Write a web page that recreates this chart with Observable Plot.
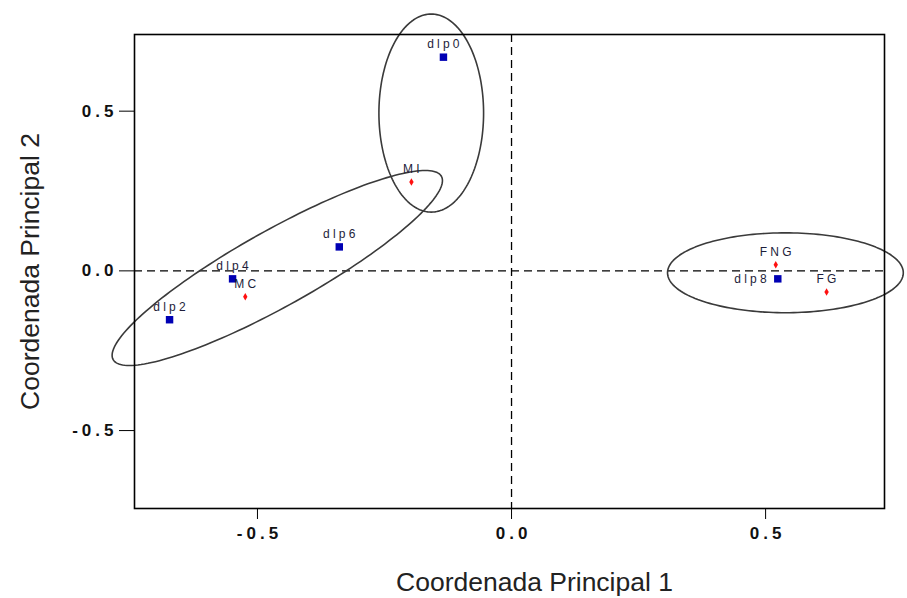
<!DOCTYPE html>
<html>
<head>
<meta charset="utf-8">
<script src="https://cdn.jsdelivr.net/npm/d3@7"></script>
<script src="https://cdn.jsdelivr.net/npm/@observablehq/plot@0.6"></script>
<style>
  body { margin: 0; background: white; }
</style>
</head>
<body>
<div id="chart"></div>
<script>
// Data
const labels = ["dlp0", "dlp2", "dlp4", "dlp6", "dlp8", "MI", "MC", "FNG", "FG"];
const coord1 = [-0.134, -0.673, -0.549, -0.339, 0.524, -0.197, -0.524, 0.520, 0.620];
const coord2 = [0.669, -0.153, -0.025, 0.075, -0.025, 0.278, -0.081, 0.019, -0.066];
const kinds  = ["dlp", "dlp", "dlp", "dlp", "dlp", "src", "src", "src", "src"];

const tickValues = [-0.5, 0, 0.5];
const tickLabels = ["-0.5", "0.0", "0.5"];

// Grouping ellipses: centre and two conjugate half-axis vectors (data units)
const ellipseIds = ["top", "left", "right"];
const ellipseCx  = [-0.158, -0.461, 0.539];
const ellipseCy  = [0.494, 0.009, -0.006];
const ellipseUx  = [0.103, 0.323, 0.232];
const ellipseUy  = [0, 0.287, 0];
const ellipseVx  = [0, 0.0365, 0];
const ellipseVy  = [0.31, -0.104, 0.125];

const points = labels.map((l, i) => ({label: l, x: coord1[i], y: coord2[i], kind: kinds[i]}));
const ellipsePts = [];
ellipseIds.forEach((id, k) => {
  const n = 180;
  for (let j = 0; j <= n; j++) {
    const t = 2 * Math.PI * j / n;
    ellipsePts.push({
      id,
      x: ellipseCx[k] + ellipseUx[k] * Math.cos(t) + ellipseVx[k] * Math.sin(t),
      y: ellipseCy[k] + ellipseUy[k] * Math.cos(t) + ellipseVy[k] * Math.sin(t)
    });
  }
});

const fmt = d => tickLabels[tickValues.indexOf(d)];

const chart = Plot.plot({
  width: 907,
  height: 598,
  marginLeft: 134,
  marginRight: 23,
  marginTop: 34,
  marginBottom: 90,
  style: {fontFamily: "Liberation Sans, Arial, sans-serif", background: "white", overflow: "visible"},
  x: {domain: [-0.742, 0.734]},
  y: {domain: [-0.744, 0.74]},
  marks: [
    Plot.ruleX([0], {stroke: "black", strokeWidth: 1.3, strokeDasharray: "8,5"}),
    Plot.ruleY([0], {stroke: "black", strokeWidth: 1.3, strokeDasharray: "8,5"}),
    Plot.line(ellipsePts, {x: "x", y: "y", z: "id", stroke: "#3a3a3a", strokeWidth: 1.6}),
    Plot.frame({stroke: "black", strokeWidth: 1.6}),
    Plot.axisX({
      ticks: tickValues, tickFormat: fmt, tickSize: 11, tickPadding: 7,
      fontSize: 17, fill: "#111",
      label: "Coordenada Principal 1", labelAnchor: "center", labelArrow: "none", labelOffset: 82
    }),
    Plot.axisY({
      ticks: tickValues, tickFormat: fmt, tickSize: 15, tickPadding: 2,
      fontSize: 17, fill: "#111",
      label: "Coordenada Principal 2", labelAnchor: "center", labelArrow: "none", labelOffset: 114
    }),
    Plot.dot(points.filter(d => d.kind === "dlp"), {x: "x", y: "y", symbol: "square", r: 4.2, fill: "#0000b4", stroke: "none"}),
    Plot.dot(points.filter(d => d.kind === "src"), {x: "x", y: "y", symbol: "diamond", r: 2.3, fill: "#ff1010", stroke: "none"}),
    Plot.text(points.filter(d => d.label !== "dlp8"), {x: "x", y: "y", text: "label", dx: 1.5, dy: -13, fontSize: 12, fill: "#1d1d3a"}),
    Plot.text(points.filter(d => d.label === "dlp8"), {x: "x", y: "y", text: "label", dx: -8, textAnchor: "end", fontSize: 12, fill: "#1d1d3a"})
  ]
});
chart.querySelectorAll('[aria-label="x-axis tick label"] text, [aria-label="y-axis tick label"] text').forEach(t => {
  t.style.letterSpacing = "4px";
  t.setAttribute("font-weight", "bold");
});
chart.querySelectorAll('[aria-label="x-axis tick label"] text').forEach(t => {
  t.setAttribute("dx", "2");
});
chart.querySelectorAll('g[aria-label="text"] text').forEach(t => {
  t.style.letterSpacing = "3.2px";
});
chart.querySelectorAll('[aria-label="x-axis label"] text, [aria-label="y-axis label"] text').forEach(t => {
  t.setAttribute("font-size", "26.5");
  t.setAttribute("fill", "#222");
});
const xl = chart.querySelector('[aria-label="x-axis label"]');
if (xl) xl.setAttribute("transform", (xl.getAttribute("transform") || "") + " translate(25,0)");
document.getElementById("chart").appendChild(chart);
</script>
</body>
</html>
